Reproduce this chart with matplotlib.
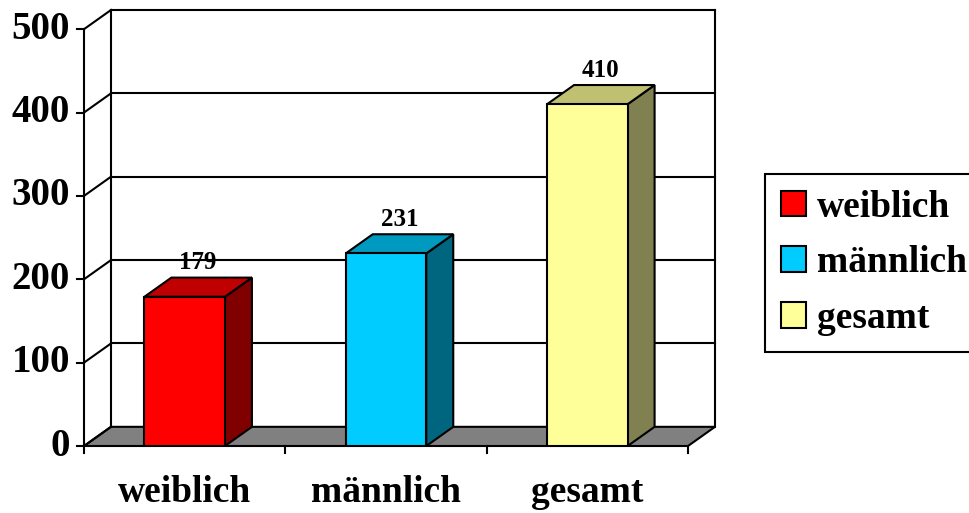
import matplotlib.pyplot as plt
from matplotlib.patches import Polygon, Rectangle

plt.rcParams['font.family'] = ['Liberation Serif', 'DejaVu Serif']
plt.rcParams['font.weight'] = 'bold'

categories = ["weiblich", "männlich", "gesamt"]
values = [179, 231, 410]
front_colors = ["#FF0000", "#00CCFF", "#FFFF99"]
top_colors = ["#C00000", "#0099C0", "#C0C073"]
side_colors = ["#800000", "#006680", "#808050"]
y_ticks = [0, 100, 200, 300, 400, 500]

# depth of the fake 3d box in data units
dx = 0.134
dy = 23
half = 0.2
lw = 1.5

fig = plt.figure(figsize=(9.7, 5.13), dpi=100)
ax = fig.add_axes([84 / 970, 1 - 446 / 513, (715 - 84) / 970, (446 - 10) / 513])
ax.set_xlim(-0.5, 2.5 + dx)
ax.set_ylim(0, 500 + dy)
ax.axis("off")

x0, x1 = -0.5, len(categories) - 0.5

# floor
ax.add_patch(Polygon([(x0, 0), (x1, 0), (x1 + dx, dy), (x0 + dx, dy)],
                     closed=True, facecolor="#808080", edgecolor="black",
                     linewidth=lw, clip_on=False, zorder=1))

# back wall + gridlines + side wall lines
for t in y_ticks:
    if t > 0:
        ax.plot([x0 + dx, x1 + dx], [t + dy, t + dy], color="black", lw=lw,
                clip_on=False, zorder=1)
    ax.plot([x0, x0 + dx], [t, t + dy], color="black", lw=lw, clip_on=False, zorder=1)
    ax.plot([x0 - 0.035, x0], [t, t], color="black", lw=lw, clip_on=False, zorder=1)
    ax.text(x0 - 0.07, t, str(t), ha="right", va="center", fontsize=28,
            fontweight="bold")
ax.plot([x0 + dx, x0 + dx], [dy, 500 + dy], color="black", lw=lw, clip_on=False, zorder=1)
ax.plot([x1 + dx, x1 + dx], [dy, 500 + dy], color="black", lw=lw, clip_on=False, zorder=1)
ax.plot([x0, x0], [0, 500], color="black", lw=lw, clip_on=False, zorder=1)

# x ticks at category borders
for b in range(len(categories) + 1):
    ax.plot([x0 + b, x0 + b], [0, -8], color="black", lw=lw, clip_on=False, zorder=1)

# bars
handles = []
for i, (v, fc, tc, sc) in enumerate(zip(values, front_colors, top_colors, side_colors)):
    l, r = i - half, i + half
    ax.add_patch(Polygon([(r, 0), (r + dx, dy), (r + dx, v + dy), (r, v)], closed=True,
                         facecolor=sc, edgecolor="black", lw=lw, zorder=3))
    ax.add_patch(Polygon([(l, v), (r, v), (r + dx, v + dy), (l + dx, v + dy)], closed=True,
                         facecolor=tc, edgecolor="black", lw=lw, zorder=3))
    front = Rectangle((l, 0), 2 * half, v, facecolor=fc, edgecolor="black", lw=lw, zorder=4,
                      label=categories[i])
    ax.add_patch(front)
    handles.append(front)
    ax.text(i + dx / 2, v + dy + 4, str(v), ha="center", va="bottom", fontsize=18,
            fontweight="bold")
    ax.text(i, -67, categories[i], ha="center", va="baseline", fontsize=27,
            fontweight="bold")

leg = fig.legend(handles=handles, loc="upper left",
                 bbox_to_anchor=(765 / 970, 1 - 174 / 513), fontsize=27,
                 frameon=True, fancybox=False, shadow=False, framealpha=1,
                 borderpad=0.42, handlelength=0.67, handleheight=0.67,
                 handletextpad=0.3, labelspacing=0.55, borderaxespad=0)
leg.get_frame().set_edgecolor("black")
leg.get_frame().set_linewidth(lw)
for t in leg.get_texts():
    t.set_fontweight("bold")

fig.savefig("out.png", dpi=100)
